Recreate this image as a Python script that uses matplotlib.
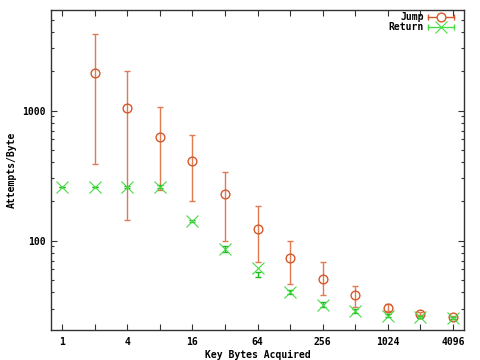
import matplotlib

matplotlib.use("Agg")
import matplotlib.pyplot as plt
import numpy as np
from matplotlib.font_manager import FontProperties
from matplotlib.ticker import FixedLocator, LogLocator, NullFormatter, FixedFormatter

# key bytes acquired
jump_x = [2, 4, 8, 16, 32, 64, 128, 256, 512, 1024, 2048, 4096]
jump_mean = [1960, 1040, 623, 407, 226, 122, 74, 50.3, 38.1, 30.2, 27.4, 25.6]
jump_low = [391, 144, 245, 201, 100, 68, 46, 37.8, 31, 28.5, 26.6, 24.9]
jump_high = [3890, 2030, 1060, 650, 338, 184, 100, 68.3, 44.9, 32.5, 28.3, 26.3]

ret_x = [1, 2, 4, 8, 16, 32, 64, 128, 256, 512, 1024, 2048, 4096]
ret_mean = [259, 259, 259, 259, 141, 86, 61.8, 40.4, 32.2, 28.9, 26.3, 25.8, 25.3]
ret_low = [258, 258, 255, 252, 139, 82, 52.8, 38.5, 31, 27.8, 25.6, 25.2, 24.9]
ret_high = [260, 260, 263, 265, 143, 90, 56.9, 42, 33.8, 29.6, 27, 26.4, 25.8]

xtick_vals = [2 ** k for k in range(13)]
xtick_labels = [str(v) if k % 2 == 0 else "" for k, v in enumerate(xtick_vals)]

JUMP_C = "#d4582a"
RET_C = "#44dd44"
FONT = dict(family="DejaVu Sans Mono", weight="bold", size=7)

fig = plt.figure(figsize=(4.8, 3.6), dpi=100)
ax = fig.add_axes([51 / 480, 30 / 360, 413 / 480, 320 / 360])


def bars(ax, x, lo, hi, color, lw):
    lo = np.array(lo, float)
    hi = np.array(hi, float)
    mid = (lo + hi) / 2
    ax.errorbar(x, mid, yerr=(hi - lo) / 2, fmt="none", ecolor=color,
                elinewidth=lw, capsize=2.2, capthick=lw)


bars(ax, jump_x, jump_low, jump_high, "#e07a50", 1.0)
ax.plot(jump_x, jump_mean, "o", ms=6.3, mfc="none", mec=JUMP_C, mew=1.0,
        linestyle="none")
bars(ax, ret_x, ret_low, ret_high, "#1fb81f", 1.0)
ax.plot(ret_x, ret_mean, "x", ms=8.0, mec=RET_C, mew=0.8, linestyle="none")

ax.set_xscale("log", base=2)
ax.set_yscale("log")
ax.set_xlim(0.79, 5180)
ax.set_ylim(20.5, 5930)

ax.xaxis.set_major_locator(FixedLocator(xtick_vals))
ax.xaxis.set_major_formatter(FixedFormatter(xtick_labels))
ax.xaxis.set_minor_locator(FixedLocator([]))
ax.yaxis.set_major_locator(FixedLocator([100, 1000]))
ax.yaxis.set_major_formatter(FixedFormatter(["100", "1000"]))
ax.yaxis.set_minor_locator(LogLocator(base=10, subs=range(2, 10)))
ax.yaxis.set_minor_formatter(NullFormatter())

ax.tick_params(which="both", direction="in", top=True, right=True,
               color="#333333", width=0.8)
ax.tick_params(axis="x", pad=5)
ax.tick_params(axis="y", pad=4)
ax.tick_params(which="major", length=4)
ax.tick_params(which="minor", length=2.5)
for lab in ax.get_xticklabels() + ax.get_yticklabels():
    lab.set_fontproperties(FontProperties(**FONT))
for sp in ax.spines.values():
    sp.set_color("#333333")
    sp.set_linewidth(1.0)

ax.set_xlabel("Key Bytes Acquired", fontdict=FONT, labelpad=2)
ax.set_ylabel("Attempts/Byte", fontdict=FONT, labelpad=4)

# gnuplot style key, top right
for i, (name, color, mk) in enumerate([("Jump", JUMP_C, "o"), ("Return", RET_C, "x")]):
    yk = 0.977 - i * 0.031
    ax.text(0.902, yk, name, transform=ax.transAxes, ha="right", va="center", **FONT)
    ax.plot([0.913, 0.975], [yk, yk], color=color, lw=1.0, transform=ax.transAxes,
            clip_on=False)
    ax.plot([0.913, 0.975], [yk, yk], "|", color=color, ms=4, mew=1.0,
            transform=ax.transAxes, clip_on=False)
    if mk == "o":
        ax.plot([0.944], [yk], "o", ms=6.3, mfc="white", mec=color, mew=1.0,
                transform=ax.transAxes, clip_on=False)
    else:
        ax.plot([0.944], [yk], "x", ms=8.0, mec=color, mew=0.8,
                transform=ax.transAxes, clip_on=False)

fig.savefig("out.png", dpi=100)
